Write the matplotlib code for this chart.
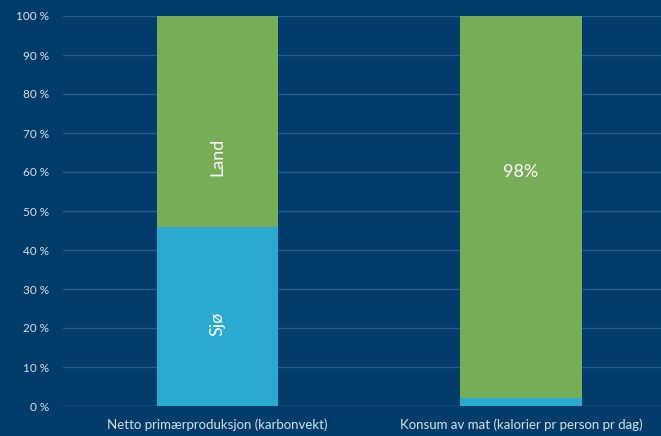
import matplotlib.pyplot as plt
from matplotlib.ticker import MultipleLocator, FuncFormatter

categories = ['Netto primærproduksjon (karbonvekt)',
              'Konsum av mat (kalorier pr person pr dag)']
sjo = [46, 2]
land = [54, 98]

BG = '#013c6a'
GREEN = '#78ad58'
CYAN = '#2aaad0'
TXT = '#d8e0e8'

plt.rcParams['font.family'] = ['Lato', 'DejaVu Sans']

fig = plt.figure(figsize=(6.61, 4.36), dpi=100, facecolor=BG)
ax = fig.add_axes([63 / 661, 30 / 436, 598 / 661, 390 / 436], facecolor=BG)

x = range(len(categories))
ax.bar(x, sjo, width=0.4, color=CYAN, zorder=3)
ax.bar(x, land, width=0.4, bottom=sjo, color=GREEN, zorder=3)

ax.set_ylim(0, 100)
ax.set_xlim(-0.509, 1.461)
ax.yaxis.set_major_locator(MultipleLocator(10))
ax.yaxis.set_major_formatter(FuncFormatter(lambda v, p: f'{v:.0f} %'))
ax.grid(axis='y', color='#2b5c88', linewidth=1, zorder=0)

ax.set_xticks(list(x))
ax.set_xticklabels(categories)
for s in ax.spines.values():
    s.set_visible(False)
ax.axhline(0, color='#3a6a94', linewidth=1, zorder=1)
ax.tick_params(axis='both', length=0, colors=TXT)
ax.tick_params(axis='y', pad=10, labelsize=8.5)
ax.tick_params(axis='x', pad=9, labelsize=9.5)

ax.text(0, 64, 'Land', rotation=90, ha='center', va='center',
        color='white', fontsize=13, zorder=4)
ax.text(0, 21, 'Sjø', rotation=90, ha='center', va='center',
        color='white', fontsize=13, zorder=4)
ax.text(1, 60, '98%', ha='center', va='center',
        color='white', fontsize=13, zorder=4)

fig.savefig('out.png', dpi=100, facecolor=BG)
